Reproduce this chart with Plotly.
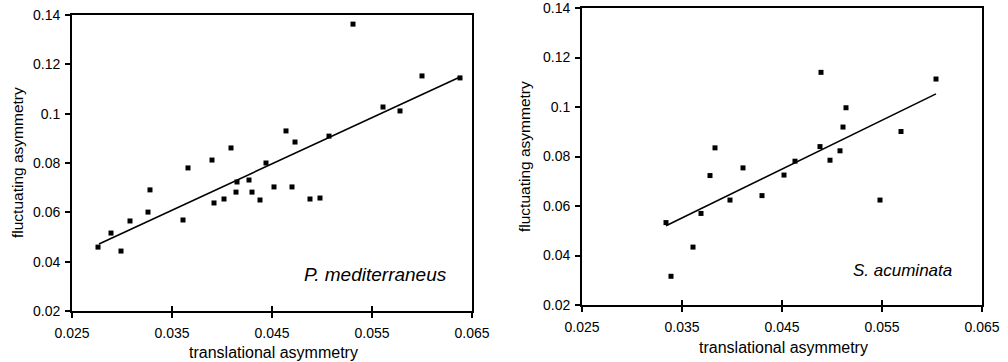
import plotly.graph_objects as go

# ---- data: P. mediterraneus (left panel)
pm_x = [0.0276, 0.0289, 0.0299, 0.0308, 0.0326, 0.0328, 0.0361, 0.0366, 0.0390, 0.0392,
        0.0402, 0.0409, 0.0415, 0.0414, 0.0427, 0.0430, 0.0438, 0.0444, 0.0452, 0.0464,
        0.0470, 0.0473, 0.0488, 0.0498, 0.0507, 0.0531, 0.0561, 0.0578, 0.0600, 0.0638]
pm_y = [0.0459, 0.0516, 0.0443, 0.0565, 0.0601, 0.0691, 0.0569, 0.0780, 0.0812, 0.0638,
        0.0654, 0.0861, 0.0723, 0.0682, 0.0731, 0.0682, 0.0650, 0.0800, 0.0703, 0.0930,
        0.0703, 0.0885, 0.0654, 0.0658, 0.0909, 0.1363, 0.1027, 0.1011, 0.1153, 0.1145]
pm_fit_x = [0.0277, 0.0638]
pm_fit_y = [0.0472, 0.1149]

# ---- data: S. acuminata (right panel)
sa_x = [0.0334, 0.0339, 0.0361, 0.0369, 0.0378, 0.0383, 0.0398, 0.0411, 0.0430, 0.0452,
        0.0463, 0.0488, 0.0489, 0.0498, 0.0508, 0.0511, 0.0514, 0.0548, 0.0569, 0.0604]
sa_y = [0.0533, 0.0316, 0.0434, 0.0570, 0.0723, 0.0835, 0.0624, 0.0754, 0.0642, 0.0725,
        0.0781, 0.0840, 0.1140, 0.0785, 0.0823, 0.0919, 0.0997, 0.0624, 0.0901, 0.1113]
sa_fit_x = [0.0334, 0.0604]
sa_fit_y = [0.0520, 0.1053]

x_ticks = [0.025, 0.035, 0.045, 0.055, 0.065]
x_ticklabels = ["0.025", "0.035", "0.045", "0.055", "0.065"]
y_ticks = [0.02, 0.04, 0.06, 0.08, 0.1, 0.12, 0.14]
y_ticklabels = ["0.02", "0.04", "0.06", "0.08", "0.1", "0.12", "0.14"]

x_title = "translational asymmetry"
y_title = "fluctuating asymmetry"
labels = ["<i>P. mediterraneus</i>", "<i>S. acuminata</i>"]

W, H = 1008, 362
FONT = "Liberation Sans, Arial, sans-serif"

fig = go.Figure()
mk = dict(symbol="square", size=5, color="black")
ln = dict(color="black", width=1.6)

fig.add_trace(go.Scatter(x=pm_x, y=pm_y, mode="markers", marker=mk, xaxis="x", yaxis="y"))
fig.add_trace(go.Scatter(x=pm_fit_x, y=pm_fit_y, mode="lines", line=ln, xaxis="x", yaxis="y"))
fig.add_trace(go.Scatter(x=sa_x, y=sa_y, mode="markers", marker=mk, xaxis="x2", yaxis="y2"))
fig.add_trace(go.Scatter(x=sa_fit_x, y=sa_fit_y, mode="lines", line=ln, xaxis="x2", yaxis="y2"))
# empty traces for overlay axes (inside tick halves)
fig.add_trace(go.Scatter(x=[], y=[], xaxis="x3", yaxis="y"))
fig.add_trace(go.Scatter(x=[], y=[], xaxis="x4", yaxis="y2"))

tickfont = dict(family=FONT, size=14, color="black")

def xax(dom, anchor):
    return dict(domain=dom, anchor=anchor, range=[0.025, 0.065], tickvals=x_ticks,
                ticktext=x_ticklabels, ticks="outside", ticklen=5, tickwidth=1.5,
                tickcolor="black", showline=True, mirror=True, linecolor="black",
                linewidth=1.8, showgrid=False, zeroline=False, tickfont=tickfont,
                fixedrange=True, automargin=False, ticklabelstandoff=3,
                ticklabeloverflow="allow")

def yax(dom, anchor):
    return dict(domain=dom, anchor=anchor, range=[0.02, 0.14], tickvals=y_ticks,
                ticktext=y_ticklabels, ticks="outside", ticklen=5, tickwidth=1.5,
                tickcolor="black", showline=True, mirror=True, linecolor="black",
                linewidth=1.8, showgrid=False, zeroline=False, tickfont=tickfont,
                fixedrange=True, automargin=False, ticklabelstandoff=2,
                ticklabeloverflow="allow")

def overlay(over, anchor):
    return dict(overlaying=over, anchor=anchor, range=[0.025, 0.065], tickvals=x_ticks,
                ticks="inside", ticklen=5, tickwidth=1.5, tickcolor="black",
                showticklabels=False, showline=False, showgrid=False, zeroline=False,
                side="bottom", fixedrange=True, automargin=False)

fig.update_layout(
    width=W, height=H,
    margin=dict(l=0, r=0, t=0, b=0),
    paper_bgcolor="white", plot_bgcolor="white",
    showlegend=False,
    xaxis=xax([72 / W, 472 / W], "y"),
    yaxis=yax([1 - 311 / H, 1 - 15 / H], "x"),
    xaxis2=xax([582 / W, 982 / W], "y2"),
    yaxis2=yax([1 - 305 / H, 1 - 8 / H], "x2"),
    xaxis3=overlay("x", "y"),
    xaxis4=overlay("x2", "y2"),
)

yf = dict(family=FONT, size=15.5, color="black")
xf = dict(family=FONT, size=16, color="black")
common = dict(xref="paper", yref="paper", showarrow=False, xanchor="center", yanchor="middle")
fig.add_annotation(x=17 / W, y=1 - 163 / H, text=y_title, textangle=-90, font=yf, **common)
fig.add_annotation(x=525 / W, y=1 - 157 / H, text=y_title, textangle=-90, font=yf, **common)
fig.add_annotation(x=273 / W, y=1 - 352 / H, text=x_title, font=xf, **common)
fig.add_annotation(x=783 / W, y=1 - 347 / H, text=x_title, font=xf, **common)

fig.add_annotation(x=0.05535, y=0.0346, xref="x", yref="y", text=labels[0],
                   showarrow=False, xanchor="center", yanchor="middle",
                   font=dict(family=FONT, size=19, color="black"))
fig.add_annotation(x=0.0570, y=0.0341, xref="x2", yref="y2", text=labels[1],
                   showarrow=False, xanchor="center", yanchor="middle",
                   font=dict(family=FONT, size=17, color="black"))

fig.write_html(
    "out.html",
    config={"displayModeBar": False},
    post_script="document.body.style.margin='0';document.body.style.overflow='hidden';",
)
